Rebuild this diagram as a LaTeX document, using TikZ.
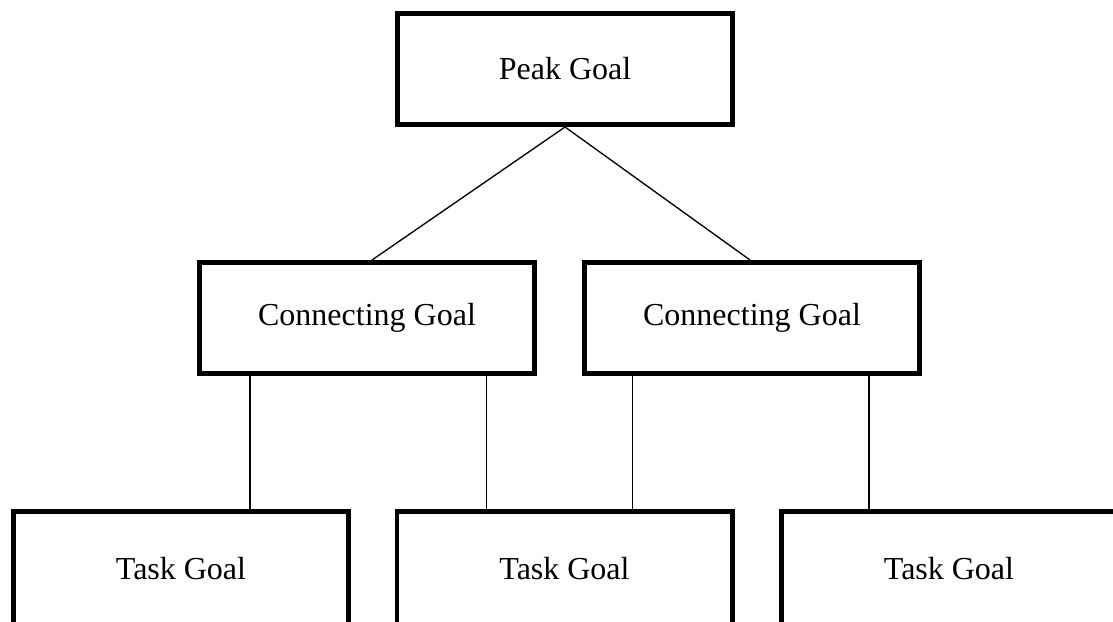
\documentclass[tikz,border=0pt]{standalone}
\usepackage{fontspec}
\setmainfont{Liberation Serif}

\begin{document}
\begin{tikzpicture}[
    x = 0.75pt, y = -0.75pt, % pixel grid, y going down
    goal/.style = {draw = black, line width = 3.4pt, rectangle,
                   minimum width = 251.6pt, minimum height = 83.6pt,
                   font = \fontsize{24}{28}\selectfont},
    task/.style = {goal, minimum height = 86.6pt}, % bottom runs off the page
    link/.style = {draw = black, line width = 1pt}
    ]

    \useasboundingbox (0,0) rectangle (1113,621);

    \node[goal] (peak) at (565,69)    {Peak Goal};
    \node[goal] (cg1)  at (367,318)   {Connecting Goal};
    \node[goal] (cg2)  at (752,318)   {Connecting Goal};
    \node[task] (t1)   at (181,569)   {Task Goal};
    \node[task] (t2)   at (564.5,569) {Task Goal};
    \node[task] (t3)   at (949,569)   {Task Goal};

    \path[link] (peak.south) -- ([xshift=3.75pt]cg1.north);
    \path[link] (peak.south) -- ([xshift=-1.5pt]cg2.north);
    \path[link] (cg1.south -| 250,0)   -- (t1.north -| 250,0);
    \path[link] (cg1.south -| 486.5,0) -- (t2.north -| 486.5,0);
    \path[link] (cg2.south -| 632.5,0) -- (t2.north -| 632.5,0);
    \path[link] (cg2.south -| 869,0)   -- (t3.north -| 869,0);

\end{tikzpicture}
\end{document}
